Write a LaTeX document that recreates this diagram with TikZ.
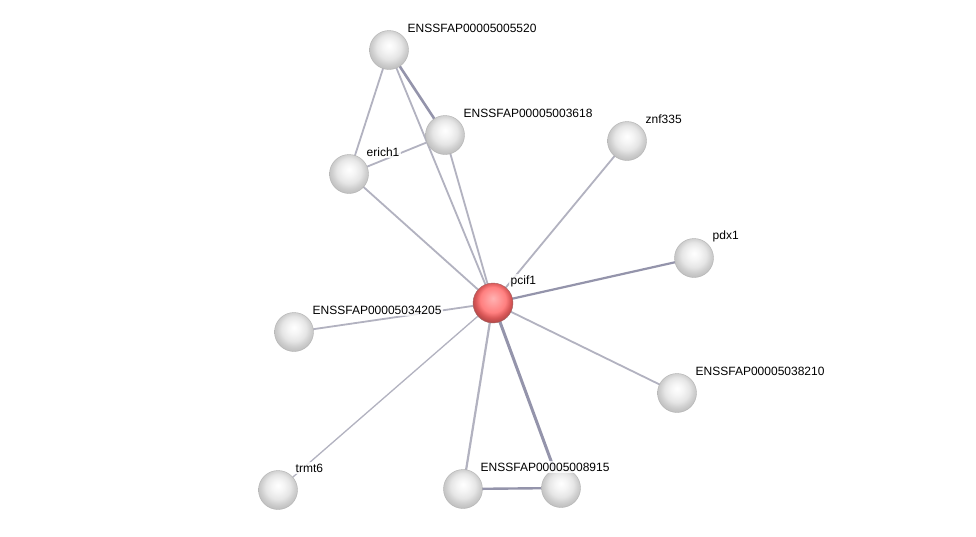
\documentclass[tikz,border=0pt]{standalone}
\usepackage{fontspec}
\setmainfont{Liberation Sans}
\pgfdeclareradialshading{greysphere}{\pgfpoint{0bp}{6bp}}{%
  color(0bp)=(white);
  color(8bp)=(white!92!gray);
  color(16bp)=(white!80!gray);
  color(22bp)=(white!62!gray);
  color(27bp)=(white!50!gray);
  color(50bp)=(white!50!gray)}
\pgfdeclareradialshading{redsphere}{\pgfpoint{0bp}{6bp}}{%
  color(0bp)=(red!30!white);
  color(8bp)=(red!40!white);
  color(16bp)=(red!50!white);
  color(22bp)=(red!60!white!85!black);
  color(27bp)=(red!60!white!70!black);
  color(50bp)=(red!60!white!70!black)}
\begin{document}
\begin{tikzpicture}[x=1pt,y=-1pt,
  ball/.style={circle,minimum size=39pt,inner sep=0pt,shading=greysphere,draw=gray!60,line width=0.4pt},
  redball/.style={circle,minimum size=40pt,inner sep=0pt,shading=redsphere,draw=red!40!black!60,line width=0.4pt},
  lbl/.style={anchor=west,font=\fontsize{12}{14}\selectfont,inner sep=1.5pt,fill=white,fill opacity=0.8,text opacity=1},
  edge/.style={draw=blue!10!gray!55,line width=1.8pt},
  edgedark/.style={draw=blue!12!gray!75,line width=2.6pt}]
\useasboundingbox (0,0) rectangle (976,536);
\fill[white] (0,0) rectangle (976,536);
% nodes positions
\coordinate (p5520) at (389,50);
\coordinate (p3618) at (445,135);
\coordinate (perich) at (349,174);
\coordinate (pznf) at (627,141);
\coordinate (ppdx) at (694,258);
\coordinate (ppcif) at (493,303);
\coordinate (p34205) at (294,332);
\coordinate (p38210) at (677,393);
\coordinate (ptrmt) at (278,490);
\coordinate (p8915) at (463,489);
\coordinate (pright) at (561,488);
% edges
\draw[edgedark] (p5520) -- (p3618);
\draw[edge] (p5520) -- (perich);
\draw[edge] (p5520) -- (ppcif);
\draw[edge] (p3618) -- (perich);
\draw[edge] (p3618) -- (ppcif);
\draw[edge] (perich) -- (ppcif);
\draw[edge] (pznf) -- (ppcif);
\draw[edgedark,line width=2.2pt] (ppdx) -- (ppcif);
\draw[edge] (p34205) -- (ppcif);
\draw[edge] (p38210) -- (ppcif);
\draw[edge,line width=1.3pt] (ptrmt) -- (ppcif);
\draw[edge,line width=2.2pt] (p8915) -- (ppcif);
\draw[edgedark,line width=3pt] (pright) -- (ppcif);
\draw[edgedark,line width=2.4pt] (p8915) -- (pright);
% balls
\node[ball] (n5520) at (p5520) {};
\node[ball] (n3618) at (p3618) {};
\node[ball] (nerich) at (perich) {};
\node[ball] (nznf) at (pznf) {};
\node[ball] (npdx) at (ppdx) {};
\node[redball] (npcif) at (ppcif) {};
\node[ball] (n34205) at (p34205) {};
\node[ball] (n38210) at (p38210) {};
\node[ball] (ntrmt) at (ptrmt) {};
\node[ball] (n8915) at (p8915) {};
\node[ball] (nright) at (pright) {};
% labels
\node[lbl] (l5520) at (406,28) {ENSSFAP00005005520};
\node[lbl] (l3618) at (462,113) {ENSSFAP00005003618};
\node[lbl] (lerich) at (365,152) {erich1};
\node[lbl] (lznf) at (644,119) {znf335};
\node[lbl] (lpdx) at (711,236) {pdx1};
\node[lbl] (lpcif) at (509,281) {pcif1};
\node[lbl] (l34205) at (311,310) {ENSSFAP00005034205};
\node[lbl] (l38210) at (694,371) {ENSSFAP00005038210};
\node[lbl] (ltrmt) at (294,468) {trmt6};
\node[lbl] (l8915) at (479,467) {ENSSFAP00005008915};
\end{tikzpicture}
\end{document}
